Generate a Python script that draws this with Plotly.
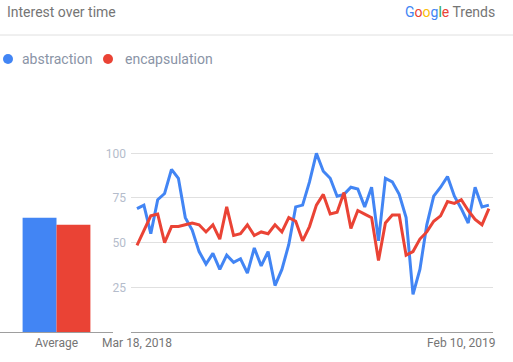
import pandas as pd
import plotly.graph_objects as go

# ---- data ----
series_names = ["abstraction", "encapsulation"]
start_date = "2018-03-18"
abstraction = [69, 71, 55, 74, 77.5, 91, 86, 64, 57, 45,
               38, 44, 35, 43, 39, 41, 33, 47, 37, 45,
               26, 35, 49, 70, 71, 84, 100, 90, 86, 76,
               77, 81, 80, 70, 81, 51, 86, 84, 77, 64,
               21, 35, 60, 76, 81, 87, 76, 69, 61, 81,
               70, 71]
encapsulation = [48.5, 57, 65, 66, 50, 59, 59, 60, 61, 60,
                 56, 60, 52, 70, 54, 55, 60, 54, 56, 55,
                 60, 56, 64, 62, 51, 59, 71, 77, 66, 67,
                 78, 58, 68, 66, 64, 40, 61, 65.5, 65.5, 43,
                 45, 52, 56, 62, 65, 73, 72, 74, 68, 63,
                 60, 69]
averages = [64, 60]
avg_category = ["Average"]
x_tick_dates = ["2018-03-18", "2019-02-10"]
x_tick_text = ["Mar 18, 2018", "Feb 10, 2019"]
y_ticks = [25, 50, 75, 100]

dates = pd.date_range(start_date, periods=len(abstraction), freq="7D")

# ---- style ----
W, H = 513, 362
BLUE = "#4285F4"
RED = "#EA4335"
FONT = "Roboto"

def px(x):
    return x / W

def py(y):
    return 1 - y / H

y0_px, y100_px = 332, 153.3
unit = (y0_px - y100_px) / 100
ymax = 110
dom_bottom = py(y0_px)
dom_top = py(y0_px - ymax * unit)

first_px, step_px = 137, 6.9
dom_l, dom_r = 131, 493
days_per_px = 7 / step_px
t0 = pd.Timestamp(start_date)
x_left = t0 - pd.Timedelta(days=(first_px - dom_l) * days_per_px)
x_right = t0 + pd.Timedelta(days=(dom_r - first_px) * days_per_px)

fig = go.Figure()

fig.add_trace(go.Bar(x=avg_category, y=[averages[0]], marker_color=BLUE,
                     marker_line_width=0, xaxis="x", yaxis="y",
                     name=series_names[0], showlegend=False))
fig.add_trace(go.Bar(x=avg_category, y=[averages[1]], marker_color=RED,
                     marker_line_width=0, xaxis="x", yaxis="y",
                     name=series_names[1], showlegend=False))

fig.add_trace(go.Scatter(x=dates, y=abstraction, mode="lines",
                         line=dict(color=BLUE, width=3), xaxis="x2", yaxis="y2",
                         name=series_names[0], showlegend=False))
fig.add_trace(go.Scatter(x=dates, y=encapsulation, mode="lines",
                         line=dict(color=RED, width=3), xaxis="x2", yaxis="y2",
                         name=series_names[1], showlegend=False))

axis_gray = "#9e9e9e"
fig.update_layout(
    width=W, height=H, autosize=False,
    margin=dict(l=0, r=0, t=0, b=0, pad=0, autoexpand=False),
    paper_bgcolor="white", plot_bgcolor="white",
    barmode="group", bargap=0.4, bargroupgap=0,
    font=dict(family=FONT, size=12, color="#757575"),
    xaxis=dict(domain=[0, px(113)], type="category", range=[-0.5, 0.5],
               showline=True, linecolor=axis_gray, linewidth=1, automargin=False,
               showgrid=False, ticks="", tickfont=dict(size=12, color="#757575"),
               fixedrange=True),
    yaxis=dict(domain=[dom_bottom, dom_top], range=[0, ymax], showgrid=False,
               showticklabels=False, zeroline=False, fixedrange=True, automargin=False),
    xaxis2=dict(domain=[px(dom_l), px(dom_r)], type="date", range=[x_left, x_right],
                anchor="y2", showline=True, linecolor=axis_gray, linewidth=1,
                showgrid=False, ticks="", tickvals=list(pd.to_datetime(x_tick_dates)),
                ticktext=x_tick_text, tickfont=dict(size=12, color="#757575"),
                fixedrange=True, automargin=False),
    yaxis2=dict(domain=[dom_bottom, dom_top], range=[0, ymax], anchor="x2",
                showgrid=True, gridcolor="#e0e0e0", gridwidth=1,
                zeroline=False, tickvals=y_ticks, ticks="",
                ticklabelstandoff=4, automargin=False,
                tickfont=dict(size=12, color="#b4bccb"), fixedrange=True),
    showlegend=False,
)

shapes = [
    dict(type="line", xref="paper", yref="paper", x0=0, x1=1, y0=py(35), y1=py(35),
         line=dict(color="#e0e0e0", width=1)),
    dict(type="circle", xref="paper", yref="paper", x0=px(3), x1=px(13),
         y0=py(64), y1=py(54), fillcolor=BLUE, line=dict(width=0)),
    dict(type="circle", xref="paper", yref="paper", x0=px(103), x1=px(113),
         y0=py(64), y1=py(54), fillcolor=RED, line=dict(width=0)),
]

annotations = [
    dict(text="Interest over time", x=px(5), y=py(12), xref="paper", yref="paper",
         xanchor="left", yanchor="middle", showarrow=False,
         font=dict(family=FONT, size=14, color="#757575")),
    dict(text=("<span style='color:#4285F4'>G</span><span style='color:#EA4335'>o</span>"
               "<span style='color:#FBBC05'>o</span><span style='color:#4285F4'>g</span>"
               "<span style='color:#34A853'>l</span><span style='color:#EA4335'>e</span>"
               " <span style='color:#757575'>Trends</span>"),
         x=px(497), y=py(12), xref="paper", yref="paper",
         xanchor="right", yanchor="middle", showarrow=False,
         font=dict(family=FONT, size=14)),
    dict(text=series_names[0], x=px(20), y=py(59), xref="paper", yref="paper",
         xanchor="left", yanchor="middle", showarrow=False,
         font=dict(family=FONT, size=14, color="#8a94a6")),
    dict(text=series_names[1], x=px(123), y=py(59), xref="paper", yref="paper",
         xanchor="left", yanchor="middle", showarrow=False,
         font=dict(family=FONT, size=14, color="#8a94a6")),
]

fig.update_layout(shapes=shapes, annotations=annotations)
fig.write_html("out.html", config={"responsive": False, "displayModeBar": False},
               post_script="document.body.style.margin='0';document.body.style.padding='0';")
